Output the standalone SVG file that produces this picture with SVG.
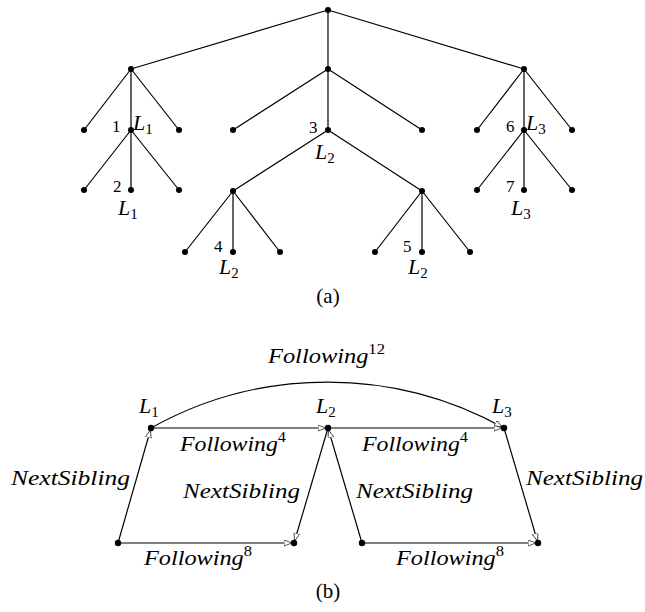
<svg xmlns="http://www.w3.org/2000/svg" width="645" height="612" viewBox="0 0 645 612" font-family="Liberation Serif, DejaVu Serif, serif">
<style>
  .e { stroke: #000; stroke-width: 1.2; fill: none; }
  .d { fill: #000; }
  .n { font-size: 17px; fill: #000; }
  .L { font-size: 22px; font-style: italic; fill: #000; }
  .s { font-style: normal; font-size: 15px; }
  .cap { font-size: 21px; fill: #000; }
</style>
<defs>
  <marker id="ah" markerUnits="userSpaceOnUse" markerWidth="12" markerHeight="8" refX="10" refY="3" orient="auto">
    <path d="M0,0 L8,3 L0,6 Z" fill="#fff" stroke="#444" stroke-width="0.9"/>
  </marker>
</defs>
<rect width="645" height="612" fill="#fff"/>

<g id="connectors">
  <path class="e" d="M328,10 L131,69 M328,10 L328,69 M328,10 L524,69"/>
  <path class="e" d="M131,69 L84,130 M131,69 L131,130 M131,69 L179,130"/>
  <path class="e" d="M131,130 L84,190 M131,130 L131,190 M131,130 L179,190"/>
  <path class="e" d="M328,69 L233,130 M328,69 L328,130 M328,69 L422,130"/>
  <path class="e" d="M328,130 L233,191 M328,130 L422,191"/>
  <path class="e" d="M233,191 L185,252 M233,191 L233,252 M233,191 L280,252"/>
  <path class="e" d="M422,191 L375,252 M422,191 L422,252 M422,191 L470,252"/>
  <path class="e" d="M524,69 L477,130 M524,69 L524,130 M524,69 L572,130"/>
  <path class="e" d="M524,130 L477,190 M524,130 L524,190 M524,130 L572,190"/>
  <path class="e" d="M151,428 L328,428" marker-end="url(#ah)"/>
  <path class="e" d="M328,428 L504,428" marker-end="url(#ah)"/>
  <path class="e" d="M151,428 A362,362 0 0 1 504,428" marker-end="url(#ah)"/>
  <path class="e" d="M118,543 L151,428" marker-end="url(#ah)"/>
  <path class="e" d="M328,428 L294,543" marker-end="url(#ah)"/>
  <path class="e" d="M362,543 L328,428" marker-end="url(#ah)"/>
  <path class="e" d="M504,428 L538,543" marker-end="url(#ah)"/>
  <path class="e" d="M118,543 L294,543" marker-end="url(#ah)"/>
  <path class="e" d="M362,543 L538,543" marker-end="url(#ah)"/>
</g>

<g id="tree-a">
  <g id="root"><circle class="d" cx="328" cy="10" r="3"/></g>
  <g id="a1"><circle class="d" cx="131" cy="69" r="3"/></g>
  <g id="a2"><circle class="d" cx="328" cy="69" r="3"/></g>
  <g id="a3"><circle class="d" cx="524" cy="69" r="3"/></g>
  <g id="a1-l"><circle class="d" cx="84" cy="130" r="3"/></g>
  <g id="a1-m"><circle class="d" cx="131" cy="130" r="3"/>
    <text class="n" x="112" y="132">1</text>
    <text class="L" x="133" y="130">L<tspan class="s" dy="4">1</tspan></text></g>
  <g id="a1-r"><circle class="d" cx="179" cy="130" r="3"/></g>
  <g id="a1-m-l"><circle class="d" cx="84" cy="190" r="3"/></g>
  <g id="a1-m-m"><circle class="d" cx="131" cy="190" r="3"/>
    <text class="n" x="113" y="192">2</text>
    <text class="L" x="118" y="215">L<tspan class="s" dy="4">1</tspan></text></g>
  <g id="a1-m-r"><circle class="d" cx="179" cy="190" r="3"/></g>
  <g id="a2-l"><circle class="d" cx="233" cy="130" r="3"/></g>
  <g id="a2-m"><circle class="d" cx="328" cy="130" r="3"/>
    <text class="n" x="309" y="133">3</text>
    <text class="L" x="315" y="159">L<tspan class="s" dy="4">2</tspan></text></g>
  <g id="a2-r"><circle class="d" cx="422" cy="130" r="3"/></g>
  <g id="a2-m-l"><circle class="d" cx="233" cy="191" r="3"/></g>
  <g id="a2-m-r"><circle class="d" cx="422" cy="191" r="3"/></g>
  <g id="b1"><circle class="d" cx="185" cy="252" r="3"/></g>
  <g id="b2"><circle class="d" cx="233" cy="252" r="3"/>
    <text class="n" x="214" y="252">4</text>
    <text class="L" x="219" y="274">L<tspan class="s" dy="4">2</tspan></text></g>
  <g id="b3"><circle class="d" cx="280" cy="252" r="3"/></g>
  <g id="b4"><circle class="d" cx="375" cy="252" r="3"/></g>
  <g id="b5"><circle class="d" cx="422" cy="252" r="3"/>
    <text class="n" x="403" y="252">5</text>
    <text class="L" x="408" y="274">L<tspan class="s" dy="4">2</tspan></text></g>
  <g id="b6"><circle class="d" cx="470" cy="252" r="3"/></g>
  <g id="a3-l"><circle class="d" cx="477" cy="130" r="3"/></g>
  <g id="a3-m"><circle class="d" cx="524" cy="130" r="3"/>
    <text class="n" x="506" y="132">6</text>
    <text class="L" x="526" y="130">L<tspan class="s" dy="4">3</tspan></text></g>
  <g id="a3-r"><circle class="d" cx="572" cy="130" r="3"/></g>
  <g id="a3-m-l"><circle class="d" cx="477" cy="190" r="3"/></g>
  <g id="a3-m-m"><circle class="d" cx="524" cy="190" r="3"/>
    <text class="n" x="506" y="192">7</text>
    <text class="L" x="511" y="215">L<tspan class="s" dy="4">3</tspan></text></g>
  <g id="a3-m-r"><circle class="d" cx="572" cy="190" r="3"/></g>
  <text class="cap" x="328" y="303" text-anchor="middle">(a)</text>
</g>

<g id="graph-b">
  <g id="L1"><circle class="d" cx="151" cy="428" r="3.2"/>
    <text class="L" x="139" y="413">L<tspan class="s" dy="4">1</tspan></text></g>
  <g id="L2"><circle class="d" cx="328" cy="428" r="3.2"/>
    <text class="L" x="316" y="413">L<tspan class="s" dy="4">2</tspan></text></g>
  <g id="L3"><circle class="d" cx="504" cy="428" r="3.2"/>
    <text class="L" x="492" y="413">L<tspan class="s" dy="4">3</tspan></text></g>
  <g id="p1"><circle class="d" cx="118" cy="543" r="3.2"/></g>
  <g id="p2"><circle class="d" cx="294" cy="543" r="3.2"/></g>
  <g id="p3"><circle class="d" cx="362" cy="543" r="3.2"/></g>
  <g id="p4"><circle class="d" cx="538" cy="543" r="3.2"/></g>

  <text class="L" x="268" y="363" textLength="117" lengthAdjust="spacingAndGlyphs">Following<tspan class="s" dy="-9">12</tspan></text>
  <text class="L" x="180" y="451" textLength="106" lengthAdjust="spacingAndGlyphs">Following<tspan class="s" dy="-9">4</tspan></text>
  <text class="L" x="362" y="451" textLength="106" lengthAdjust="spacingAndGlyphs">Following<tspan class="s" dy="-9">4</tspan></text>
  <text class="L" x="144" y="565" textLength="108" lengthAdjust="spacingAndGlyphs">Following<tspan class="s" dy="-9">8</tspan></text>
  <text class="L" x="396" y="565" textLength="108" lengthAdjust="spacingAndGlyphs">Following<tspan class="s" dy="-9">8</tspan></text>
  <text class="L" x="11" y="485" textLength="119" lengthAdjust="spacingAndGlyphs">NextSibling</text>
  <text class="L" x="183" y="498" textLength="117" lengthAdjust="spacingAndGlyphs">NextSibling</text>
  <text class="L" x="356" y="498" textLength="117" lengthAdjust="spacingAndGlyphs">NextSibling</text>
  <text class="L" x="526" y="485" textLength="117" lengthAdjust="spacingAndGlyphs">NextSibling</text>
  <text class="cap" x="328" y="598" text-anchor="middle">(b)</text>
</g>
</svg>
